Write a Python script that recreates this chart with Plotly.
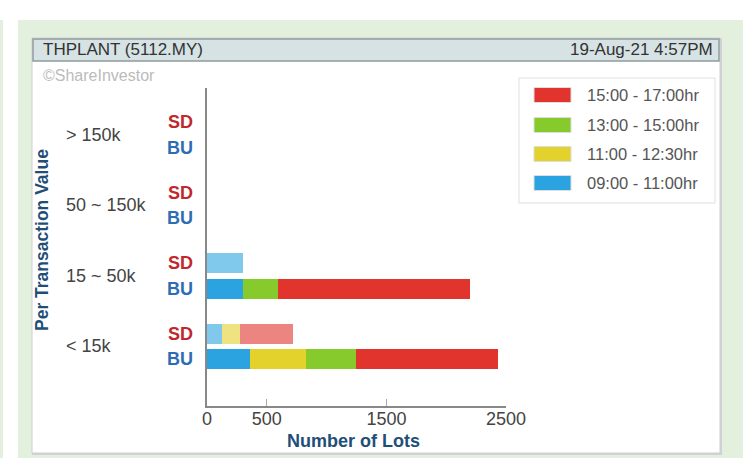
import plotly.graph_objects as go

W, H = 743, 458

groups = ["< 15k", "15 ~ 50k", "50 ~ 150k", "> 150k"]  # bottom to top
periods = ["09:00 - 11:00hr", "11:00 - 12:30hr", "13:00 - 15:00hr", "15:00 - 17:00hr"]

# lots per period, per group (order of groups above)
bu_0900 = [360, 300, 0, 0]
bu_1100 = [465, 0, 0, 0]
bu_1300 = [418, 296, 0, 0]
bu_1500 = [1193, 1600, 0, 0]

sd_0900 = [128, 304, 0, 0]
sd_1100 = [148, 0, 0, 0]
sd_1300 = [0, 0, 0, 0]
sd_1500 = [446, 0, 0, 0]

tick_vals = [0, 500, 1500, 2500]
x_title = "Number of Lots"
y_title = "Per Transaction Value"
header_left = "THPLANT (5112.MY)"
header_right = "19-Aug-21 4:57PM"
watermark = "©ShareInvestor"

colors = ["#2ba3e0", "#e3d12c", "#86ca2c", "#e0342c"]
light = ["rgba(43,163,224,0.6)", "rgba(227,209,44,0.6)", "rgba(134,202,44,0.6)", "rgba(224,52,44,0.6)"]

FONT = "Liberation Sans, Arial, sans-serif"
group_step, pair_step = 70.5, 25.5
bu_pos = [i * group_step for i in range(len(groups))]
sd_pos = [p + pair_step for p in bu_pos]

def px_x(x):
    return x / W

def px_y(y):
    return 1 - y / H

fig = go.Figure()
bu_series = [bu_0900, bu_1100, bu_1300, bu_1500]
sd_series = [sd_0900, sd_1100, sd_1300, sd_1500]
for i in range(4):
    fig.add_trace(go.Bar(x=bu_series[i], y=bu_pos, orientation="h", width=20,
                         marker=dict(color=colors[i], line=dict(width=0)),
                         name=periods[i], showlegend=False, hoverinfo="x"))
for i in range(4):
    fig.add_trace(go.Bar(x=sd_series[i], y=sd_pos, orientation="h", width=20,
                         marker=dict(color=light[i], line=dict(width=0)),
                         name=periods[i], showlegend=False, hoverinfo="x"))

shapes = []
green = "#e4f0de"
shapes.append(dict(type="rect", xref="paper", yref="paper", x0=0, x1=px_x(3), y0=0, y1=px_y(20),
                   fillcolor=green, line=dict(width=0), layer="below"))
shapes.append(dict(type="rect", xref="paper", yref="paper", x0=px_x(18), x1=1, y0=0, y1=px_y(20),
                   fillcolor=green, line=dict(width=0), layer="below"))
shapes.append(dict(type="rect", xref="paper", yref="paper", x0=px_x(32), x1=px_x(722), y0=px_y(455), y1=px_y(38),
                   fillcolor="#d2d2d6", line=dict(width=0), layer="below"))
shapes.append(dict(type="rect", xref="paper", yref="paper", x0=px_x(32), x1=px_x(720), y0=px_y(453), y1=px_y(38),
                   fillcolor="white", line=dict(color="#cfcfd4", width=1), layer="below"))
shapes.append(dict(type="rect", xref="paper", yref="paper", x0=px_x(33), x1=px_x(719), y0=px_y(61), y1=px_y(39),
                   fillcolor="#d6e2e4", line=dict(color="#8f9c9c", width=1.5), layer="below"))
shapes.append(dict(type="rect", xref="paper", yref="paper", x0=px_x(519), x1=px_x(715), y0=px_y(203), y1=px_y(78),
                   fillcolor="white", line=dict(color="#e0e0e0", width=1), layer="below"))

annotations = []
leg_rows = [(3, 95), (2, 125), (1, 154), (0, 183)]
for idx, yc in leg_rows:
    shapes.append(dict(type="rect", xref="paper", yref="paper", x0=px_x(534), x1=px_x(571),
                       y0=px_y(yc + 7.5), y1=px_y(yc - 7.5), fillcolor=colors[idx],
                       line=dict(color="#dddddd", width=1)))
    annotations.append(dict(xref="paper", yref="paper", x=px_x(585), y=px_y(yc), text=periods[idx],
                            showarrow=False, xanchor="left", yanchor="middle",
                            font=dict(family=FONT, size=16.5, color="#555555")))

annotations.append(dict(xref="paper", yref="paper", x=px_x(41), y=px_y(49.5), text=header_left,
                        showarrow=False, xanchor="left", yanchor="middle",
                        font=dict(family=FONT, size=17, color="#333333")))
annotations.append(dict(xref="paper", yref="paper", x=px_x(715), y=px_y(49.5), text=header_right,
                        showarrow=False, xanchor="right", yanchor="middle",
                        font=dict(family=FONT, size=17, color="#333333")))
annotations.append(dict(xref="paper", yref="paper", x=px_x(41), y=px_y(75), text=watermark,
                        showarrow=False, xanchor="left", yanchor="middle",
                        font=dict(family=FONT, size=16, color="#bbbbbb")))

for i, g in enumerate(groups):
    annotations.append(dict(xref="paper", yref="y", x=px_x(64), y=bu_pos[i] + 13, text=g,
                            showarrow=False, xanchor="left", yanchor="middle",
                            font=dict(family=FONT, size=18, color="#444444")))
    annotations.append(dict(xref="paper", yref="y", x=px_x(180), y=sd_pos[i], text="<b>SD</b>",
                            showarrow=False, xanchor="center", yanchor="middle",
                            font=dict(family=FONT, size=18, color="#c1272d")))
    annotations.append(dict(xref="paper", yref="y", x=px_x(180), y=bu_pos[i], text="<b>BU</b>",
                            showarrow=False, xanchor="center", yanchor="middle",
                            font=dict(family=FONT, size=18, color="#2e6db4")))

annotations.append(dict(xref="paper", yref="paper", x=px_x(42), y=px_y(240), text="<b>" + y_title + "</b>",
                        showarrow=False, textangle=-90, xanchor="center", yanchor="middle",
                        font=dict(family=FONT, size=17.5, color="#1f4f78")))
annotations.append(dict(xref="paper", yref="paper", x=px_x(353), y=px_y(441), text="<b>" + x_title + "</b>",
                        showarrow=False, xanchor="center", yanchor="middle",
                        font=dict(family=FONT, size=18, color="#1f4f78")))

fig.update_layout(
    width=W, height=H, autosize=False, barmode="stack", bargap=0,
    margin=dict(l=0, r=0, t=0, b=0, pad=0, autoexpand=False),
    paper_bgcolor="white", plot_bgcolor="rgba(0,0,0,0)",
    showlegend=False,
    shapes=shapes, annotations=annotations,
    xaxis=dict(domain=[px_x(207), px_x(506)], range=[0, 2500], tickvals=tick_vals, automargin=False,
               ticks="inside", ticklen=7, tickcolor="#aaaaaa", showline=True, linecolor="#888888",
               linewidth=1.5, showgrid=False, zeroline=False, ticklabelstandoff=-4,
               tickfont=dict(family=FONT, size=18, color="#444444")),
    yaxis=dict(domain=[px_y(406), px_y(88)], range=[-47, 271], showticklabels=False, automargin=False,
               ticks="", showline=True, linecolor="#888888", linewidth=1.5, showgrid=False, zeroline=False),
)

post = "document.body.style.margin='0';document.body.style.overflow='hidden';"

fig.write_html("out.html", config={"displayModeBar": False}, post_script=post)
